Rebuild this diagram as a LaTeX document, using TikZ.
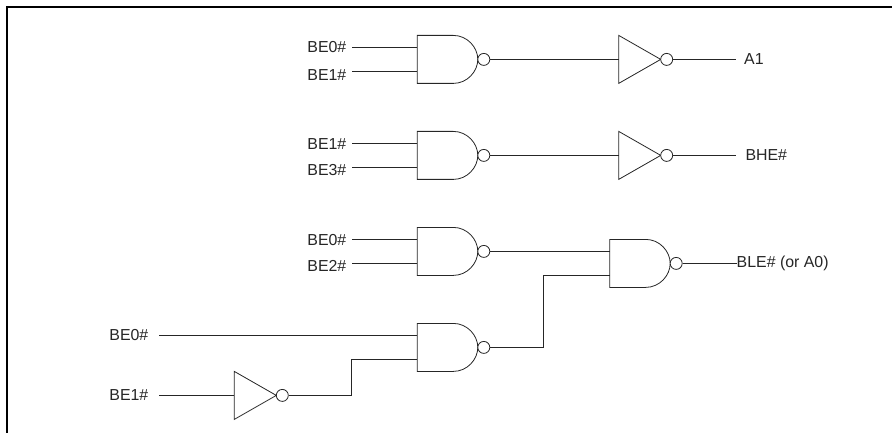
\documentclass[tikz,border=0pt]{standalone}
\usepackage{fontspec}
\setmainfont{Liberation Sans}
\tikzset{
  x=1pt,y=-1pt,
  wire/.style={line width=0.8pt,draw=black!85},
  frameline/.style={line width=2pt,draw=black},
  lbl/.style={font=\fontsize{15.9}{17}\selectfont,text=black!85,inner sep=0pt},
  bubble/.style={circle,draw=black!85,line width=0.8pt,fill=white,minimum size=12pt,inner sep=0pt},
  gatebody/.style={line width=0.8pt,draw=black!85}
}
\newcommand{\nandgate}[3]{% name, left x, top y
  \coordinate (#1a) at (#2,#3+12);
  \coordinate (#1b) at (#2,#3+36);
  \draw[gatebody] (#2+36,#3) -- (#2,#3) -- (#2,#3+48) -- (#2+36,#3+48)
     .. controls (#2+50,#3+48) and (#2+60.5,#3+36) .. (#2+60.5,#3+24)
     .. controls (#2+60.5,#3+12) and (#2+50,#3) .. (#2+36,#3);
  \node[bubble] (#1o) at (#2+66.5,#3+24) {};
}
\newcommand{\invgate}[3]{% name, left x, centre y
  \coordinate (#1i) at (#2,#3);
  \draw[gatebody] (#2,#3-24) -- (#2,#3+24) -- (#2+42,#3) -- cycle;
  \node[bubble] (#1o) at (#2+48,#3) {};
}
\begin{document}
\begin{tikzpicture}
\useasboundingbox (0,0) rectangle (892,433);
\draw[frameline] (7,433) -- (7,7) -- (892,7);

\nandgate{g1}{417.3}{35.4}
\nandgate{g2}{417.3}{131.4}
\nandgate{g3}{417.3}{227.4}
\nandgate{g4}{417.3}{323.4}
\nandgate{g5}{609.7}{239.4}
\invgate{n1}{618.7}{59.4}
\invgate{n2}{618.7}{155.4}
\invgate{n3}{234.3}{395.4}

\node[lbl,anchor=east] (t1) at (346.5,47.4) {BE0\#};
\node[lbl,anchor=east] (t2) at (346.5,74.8) {BE1\#};
\node[lbl,anchor=east] (t3) at (346.5,144) {BE1\#};
\node[lbl,anchor=east] (t4) at (346.5,170.5) {BE3\#};
\node[lbl,anchor=east] (t5) at (346.5,239.7) {BE0\#};
\node[lbl,anchor=east] (t6) at (346.5,266.3) {BE2\#};
\node[lbl,anchor=east] (t7) at (148.5,335.5) {BE0\#};
\node[lbl,anchor=east] (t8) at (148.5,395.4) {BE1\#};
\node[lbl,anchor=west] (o1) at (744,59.4) {A1};
\node[lbl,anchor=west] (o2) at (745.3,154.6) {BHE\#};
\node[lbl,anchor=west] (o3) at (736.5,263.4) {BLE\# (or A0)};

\coordinate (w1) at (352,47.4);
\coordinate (w2) at (352,71.4);
\coordinate (w3) at (352,143.4);
\coordinate (w4) at (352,167.4);
\coordinate (w5) at (352,239.4);
\coordinate (w6) at (352,263.4);
\coordinate (w7) at (159,335.4);
\coordinate (w8) at (159,395.4);
\coordinate (e1) at (736,59.4);
\coordinate (e2) at (736,155.4);
\coordinate (k1) at (543.7,275.4);
\coordinate (k2) at (351,359.4);

\draw[wire] (w1) -- (g1a);
\draw[wire] (w2) -- (g1b);
\draw[wire] (w3) -- (g2a);
\draw[wire] (w4) -- (g2b);
\draw[wire] (w5) -- (g3a);
\draw[wire] (w6) -- (g3b);
\draw[wire] (w7) -- (g4a);
\draw[wire] (w8) -- (n3i);
\draw[wire] (g1o) -- (n1i);
\draw[wire] (g2o) -- (n2i);
\draw[wire] (n1o) -- (e1);
\draw[wire] (n2o) -- (e2);
\draw[wire] (g5o) -- (o3.west);
\draw[wire] (g3o) -- (g5a);
\draw[wire] (g4o) -| (k1) -- (g5b);
\draw[wire] (n3o) -| (k2) -- (g4b);
\end{tikzpicture}
\end{document}
